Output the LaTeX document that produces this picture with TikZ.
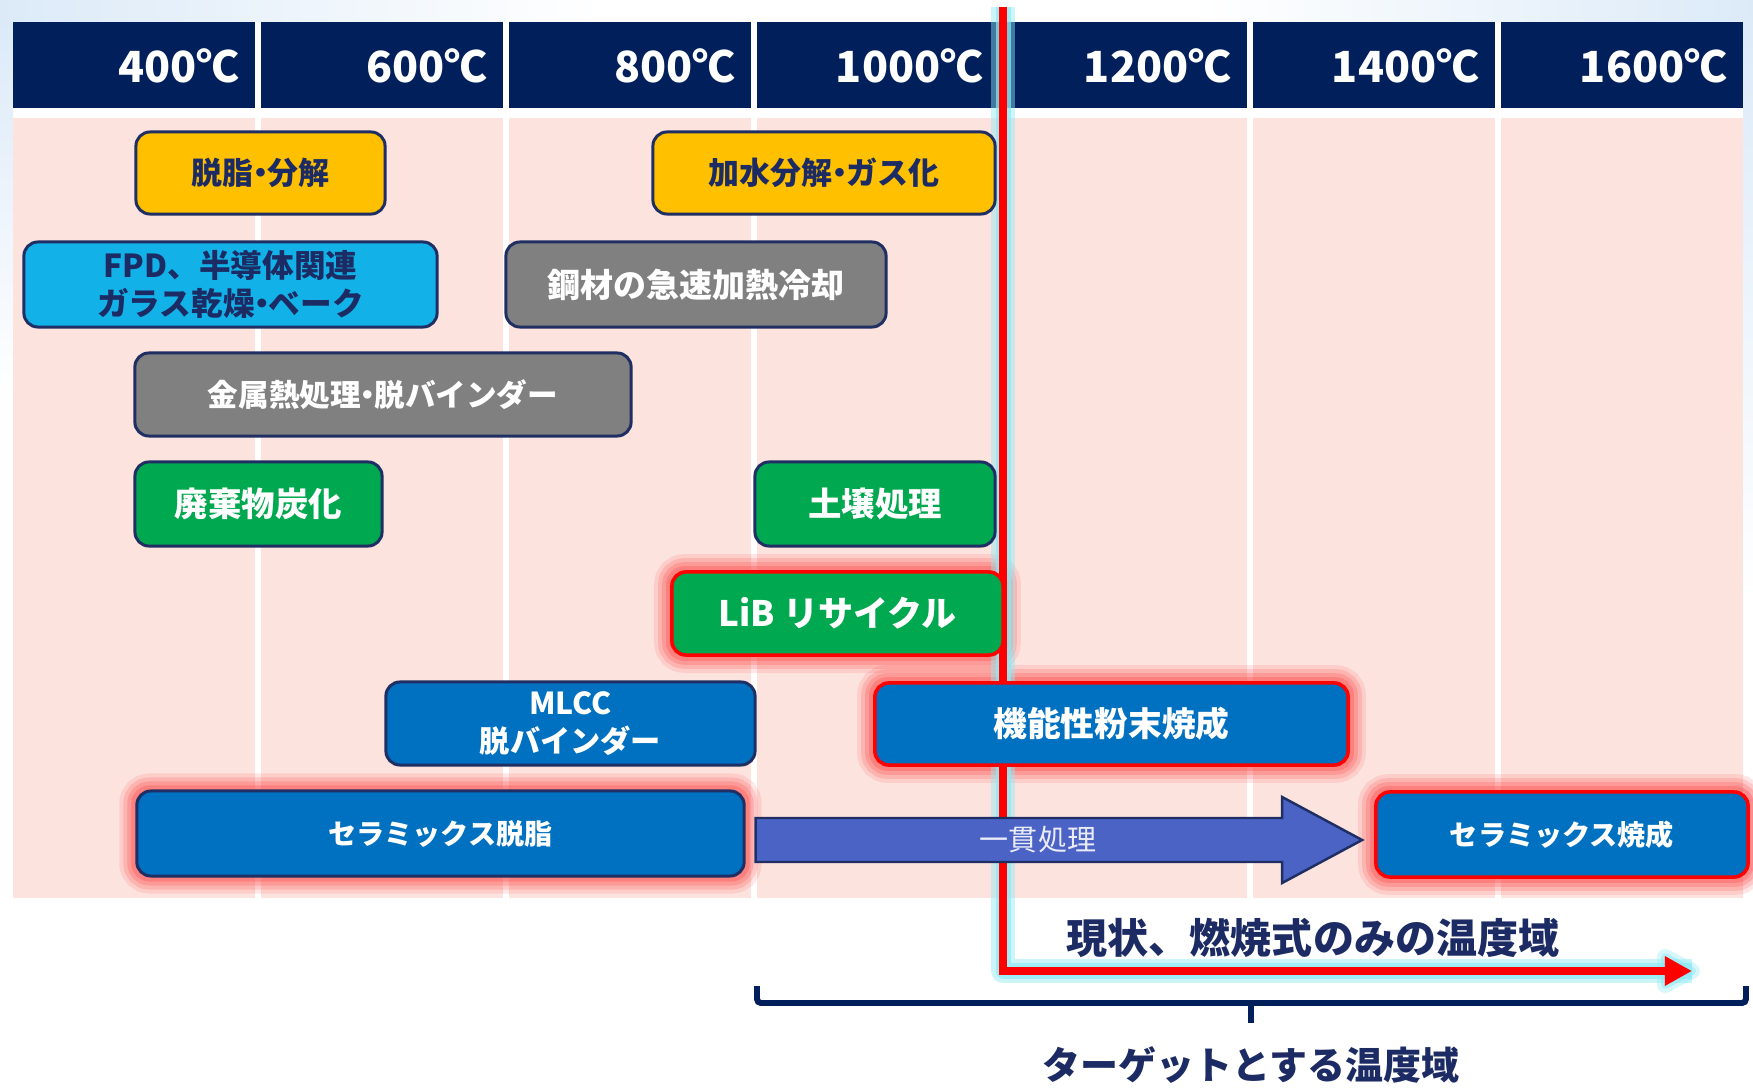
\documentclass[tikz,border=0pt]{standalone}
\usepackage{fontspec}
\setmainfont{Noto Sans CJK JP}
\usetikzlibrary{arrows.meta,calc}
\definecolor{hdr}{HTML}{001F5B}
\definecolor{pinkbg}{HTML}{FCE3DE}
\definecolor{navytxt}{HTML}{1C2B63}
\definecolor{bord}{HTML}{1F2E63}
\definecolor{yel}{HTML}{FFC000}
\definecolor{cyanb}{HTML}{12B2E8}
\definecolor{grayb}{HTML}{808080}
\definecolor{greenb}{HTML}{00A84F}
\definecolor{blueb}{HTML}{0070C0}
\definecolor{arrowb}{HTML}{4C63C6}
\definecolor{glowcy}{HTML}{8EEAF5}
\definecolor{bluebg}{HTML}{DCEAF8}
\newcommand\nd{\kern-0.28em・\kern-0.28em}
\pgfdeclarelayer{bg}
\pgfdeclarelayer{glow}
\pgfdeclarelayer{line}
\pgfsetlayers{bg,glow,line,main}
\tikzset{
  box/.style={rectangle, rounded corners=0.14cm, draw=bord, line width=0.85pt, align=center, inner sep=0pt},
  redbox/.style={box, draw=red, line width=1pt},
  fsz/.style={font=\bfseries\fontsize{#1}{11}\selectfont},
  hdrtext/.style={anchor=base east, text=white, font=\bfseries\fontsize{12.2}{14}\selectfont, inner sep=0pt},
  bottomtext/.style={text=navytxt, inner sep=0pt},
  bracestyle/.style={draw=hdr, line width=1.7pt, rounded corners=0.04cm},
  redline/.style={draw=red, line width=2.3pt, line join=miter},
  cyglow/.style={draw=glowcy, line join=round},
}
\begin{document}
\begin{tikzpicture}[x=0.01cm, y=-0.01cm]
\useasboundingbox (0,0) rectangle (1753,1091);
\begin{pgfonlayer}{bg}
  \fill[white] (0,0) rectangle (1753,1091);
  \shade[left color=bluebg, right color=white] (0,0) rectangle (600,22);
  \shade[left color=white, right color=bluebg] (1200,0) rectangle (1753,22);
  \shade[top color=bluebg, bottom color=white] (0,22) rectangle (13,400);
  \shade[top color=bluebg, bottom color=white] (1743,22) rectangle (1753,600);
  \foreach \i/\t in {0/400,1/600,2/800,3/1000,4/1200,5/1400,6/1600}{
    \fill[hdr] ({13+248*\i},22) rectangle ++(242,86);
    \fill[pinkbg] ({13+248*\i},118) rectangle ++(242,780);
    \node[hdrtext] (h\i) at ({13+248*\i+242-15},83) {\t℃};
  }
\end{pgfonlayer}

% boxes
\node[box, fill=yel, text=navytxt, fsz=8.8, minimum width=2.49cm, minimum height=0.82cm] (dz) at (260.5,173) {脱脂\nd 分解};
\node[box, fill=yel, text=navytxt, fsz=8.8, minimum width=3.42cm, minimum height=0.82cm] (ks) at (824,173) {加水分解\nd ガス化};
\node[box, fill=cyanb, text=navytxt, fsz=9, minimum width=4.13cm, minimum height=0.85cm] (fpd) at (230.5,284.5) {FPD、半導体関連\\ガラス乾燥\nd ベーク};
\node[box, fill=grayb, text=white, fsz=9.39, minimum width=3.8cm, minimum height=0.85cm] (kz) at (696,284.5) {鋼材の急速加熱冷却};
\node[box, fill=grayb, text=white, fsz=8.7, minimum width=4.96cm, minimum height=0.83cm] (kn) at (383,394.5) {金属熱処理\nd 脱バインダー};
\node[box, fill=greenb, text=white, fsz=9.5, minimum width=2.47cm, minimum height=0.84cm] (hk) at (258.5,504) {廃棄物炭化};
\node[box, fill=greenb, text=white, fsz=9.5, minimum width=2.4cm, minimum height=0.84cm] (dj) at (875,504) {土壌処理};
\node[redbox, fill=greenb, text=white, fsz=9.96, minimum width=3.31cm, minimum height=0.83cm] (lib) at (837.5,613.5) {LiB リサイクル};
\node[box, fill=blueb, text=white, fsz=8.6, minimum width=3.69cm, minimum height=0.83cm] (mlcc) at (570.5,723.5) {MLCC\\脱バインダー};
\node[box, fill=blueb, text=white, fsz=8, minimum width=6.07cm, minimum height=0.85cm] (cd) at (440.5,833.5) {セラミックス脱脂};
\node[redbox, fill=blueb, text=white, fsz=9.6, minimum width=4.73cm, minimum height=0.82cm] (kf) at (1111.5,724) {機能性粉末焼成};
\node[redbox, fill=blueb, text=white, fsz=8, minimum width=3.72cm, minimum height=0.85cm] (cs) at (1562,834.5) {セラミックス焼成};

% block arrow
\coordinate (a0) at ($(cd.east)+(10,6.5)$);
\coordinate (a1) at ($(cs.west)+(-12,5.5)$);
\draw[fill=arrowb, draw=bord, line width=0.7pt, line join=miter]
  ($(a0)+(0,-22)$) -- ($(a1)+(-80,-22)$) -- ($(a1)+(-80,-43)$) -- (a1)
  -- ($(a1)+(-80,43)$) -- ($(a1)+(-80,22)$) -- ($(a0)+(0,22)$) -- cycle;
\node[text=white!88!arrowb, font=\fontsize{8.25}{10}\selectfont, inner sep=0pt] (ik) at (1038,840) {一貫処理};

% red line
\coordinate (rtop) at (1003,7);
\coordinate (rcorn) at (1003,971);
\coordinate (rtip) at (1692,971);
\begin{pgfonlayer}{line}
  \draw[redline, -{Triangle[length=7.7pt,width=7.9pt]}] (rtop) -- (rcorn) -- (rtip);
\end{pgfonlayer}

% glows
\begin{pgfonlayer}{glow}
  \foreach \n in {lib,kf,cs,cd}{
    \foreach \w/\o in {0.32/0.12,0.24/0.16,0.16/0.2,0.08/0.25}{
      \draw[red!80!white, line width=\w cm, opacity=\o, rounded corners=0.14cm]
        (\n.south west) rectangle (\n.north east);
    }
  }
  \draw[cyglow, line width=0.24cm, opacity=0.45] (rtop) -- (rcorn) -- (rtip);
  \draw[cyglow, line width=0.15cm, opacity=0.7] (rtop) -- (rcorn) -- (rtip);
  \foreach \w/\o in {0.16/0.35,0.08/0.5}{
    \draw[cyglow, line width=\w cm, opacity=\o, line join=round, fill=glowcy, fill opacity=0.3]
      ($(rtip)+(-27,-14)$) -- (rtip) -- ($(rtip)+(-27,14)$) -- cycle;
  }
\end{pgfonlayer}

% bottom texts and brace
\node[bottomtext, font=\bfseries\fontsize{11.67}{14}\selectfont] (t1) at (1313,938) {現状、燃焼式のみの温度域};
\coordinate (bl) at (757,986);
\coordinate (br) at (1746,986);
\coordinate (bm) at (1251,1003);
\coordinate (bt) at (1251,1023);
\draw[bracestyle] (bl) -- (bl |- bm) -- (br |- bm) -- (br);
\draw[draw=hdr, line width=1.7pt] (bm) -- (bt);
\node[bottomtext, font=\bfseries\fontsize{10.8}{13}\selectfont] (t2) at (1251,1065) {ターゲットとする温度域};
\end{tikzpicture}
\end{document}
